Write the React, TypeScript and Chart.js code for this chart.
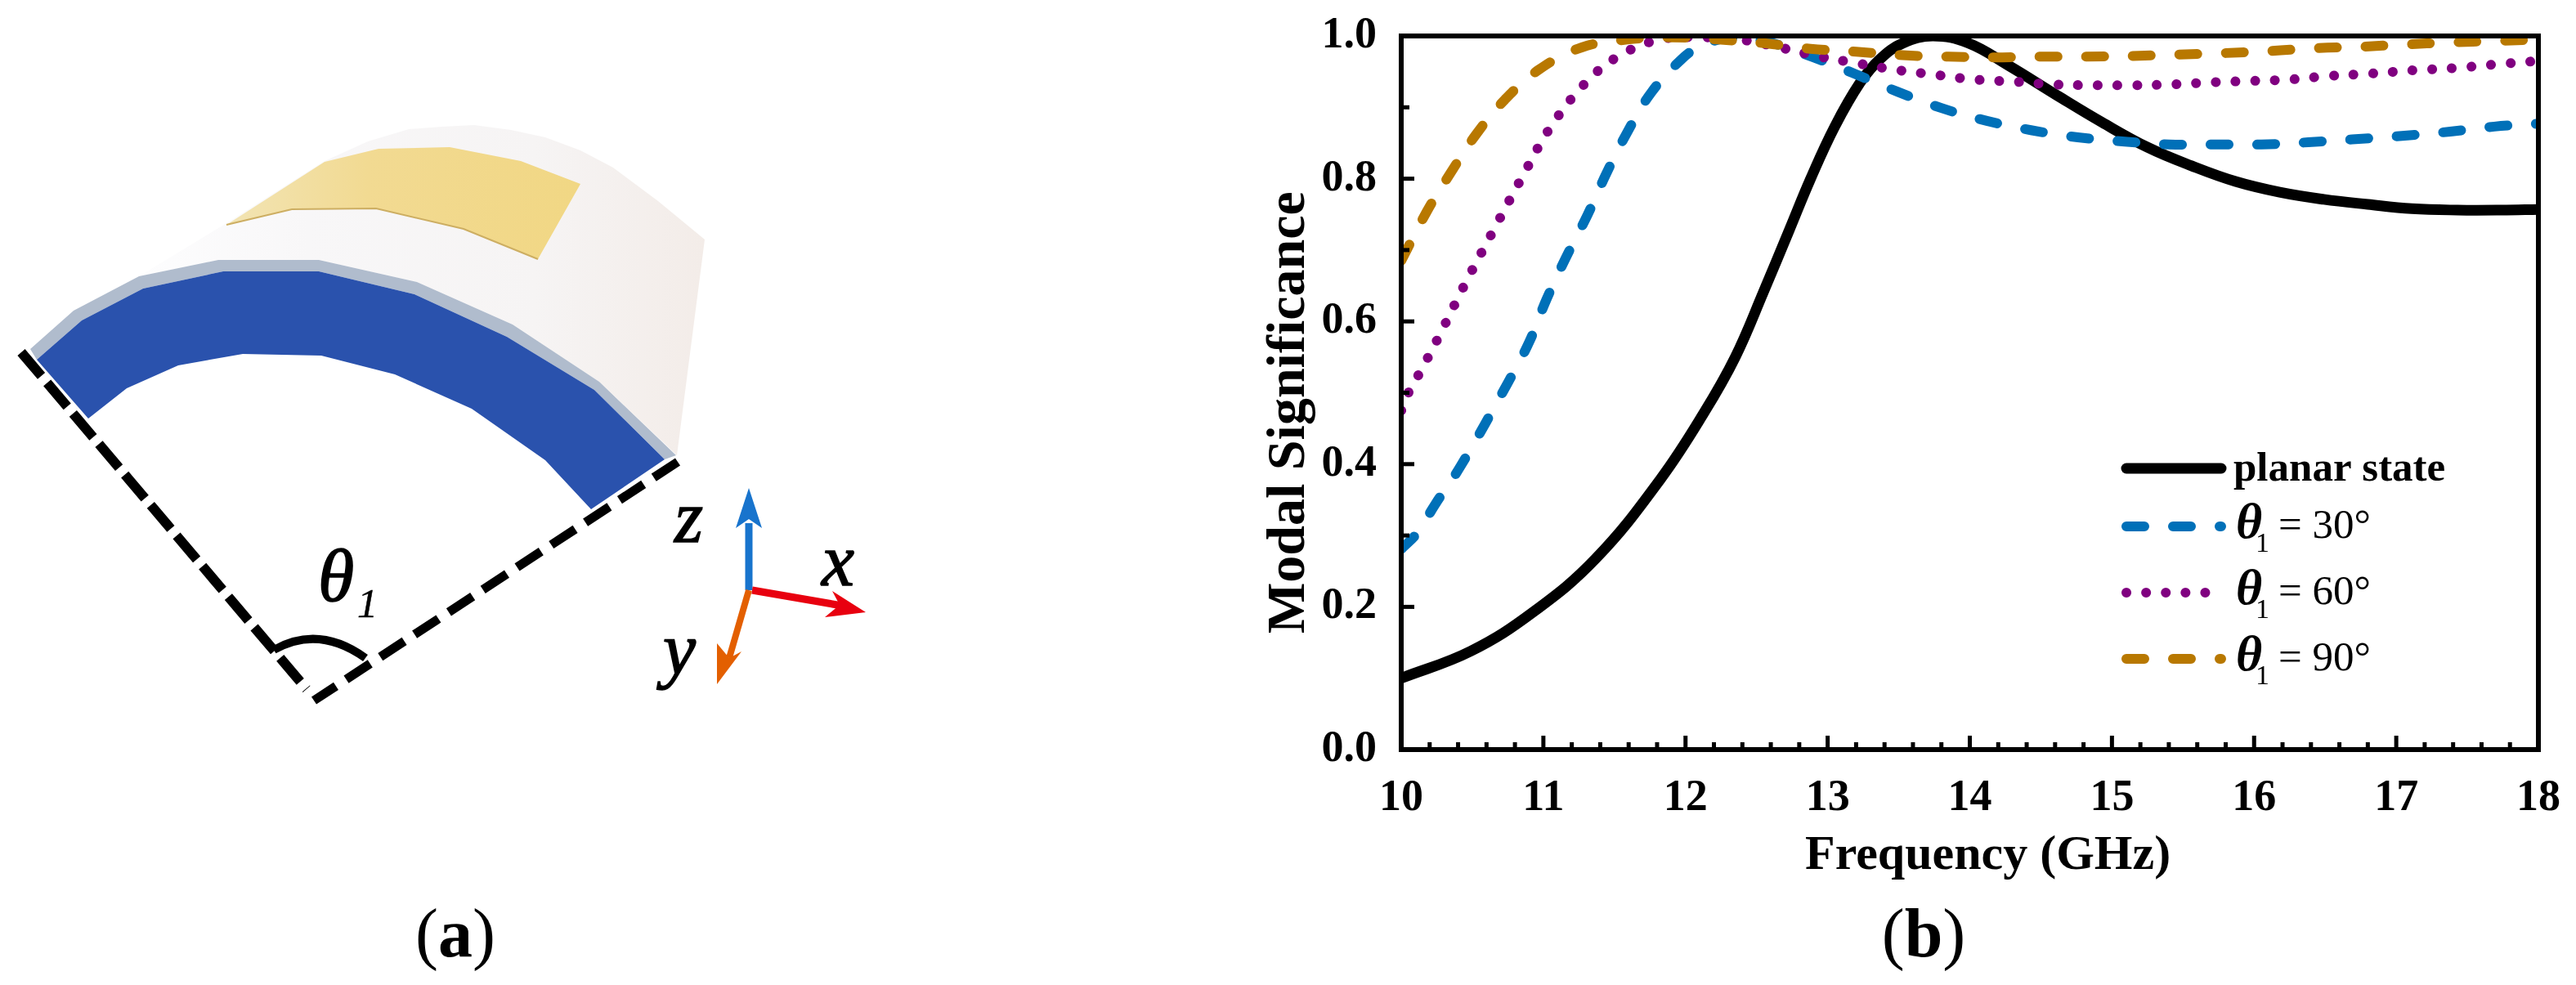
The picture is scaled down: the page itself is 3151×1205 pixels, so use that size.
import React, { useEffect, useRef } from 'react';
import { Chart, registerables } from 'chart.js';

Chart.register(...registerables);

const SERIF = '"Liberation Serif", serif';

const xMajorTicks = [10, 11, 12, 13, 14, 15, 16, 17, 18];
const yMajorTicks = [0, 0.2, 0.4, 0.6, 0.8, 1.0];
const xMinorTicks = [
  10.2, 10.4, 10.6, 10.8, 11.2, 11.4, 11.6, 11.8, 12.2, 12.4, 12.6, 12.8, 13.2, 13.4, 13.6, 13.8,
  14.2, 14.4, 14.6, 14.8, 15.2, 15.4, 15.6, 15.8, 16.2, 16.4, 16.6, 16.8, 17.2, 17.4, 17.6, 17.8,
];
const yMinorTicks = [0.1, 0.3, 0.5, 0.7, 0.9];

const planarFreq = [10, 10.49, 10.93, 11.37, 11.82, 12.13, 12.35, 12.55, 12.73, 12.88, 13.05, 13.23, 13.37, 13.53, 13.74, 13.99, 14.27, 14.62, 14.93, 15.25, 15.56, 15.87, 16.18, 16.49, 16.8, 17.11, 17.43, 17.74, 18];
const planarMs = [0.1, 0.138, 0.193, 0.268, 0.378, 0.472, 0.55, 0.642, 0.728, 0.8, 0.873, 0.935, 0.968, 0.99, 1.0, 0.99, 0.959, 0.916, 0.879, 0.844, 0.818, 0.796, 0.781, 0.771, 0.764, 0.758, 0.756, 0.756, 0.757];

const theta30Freq = [10, 10.11, 10.24, 10.42, 10.75, 10.9, 11.02, 11.16, 11.31, 11.44, 11.59, 11.76, 11.97, 12.1, 12.3, 12.55, 12.9, 13.19, 13.49, 13.8, 14.12, 14.43, 14.76, 15.09, 15.4, 15.73, 16.05, 16.38, 16.69, 17.04, 17.38, 17.69, 18];
const theta30Ms = [0.281, 0.303, 0.344, 0.398, 0.514, 0.571, 0.63, 0.69, 0.749, 0.806, 0.865, 0.921, 0.967, 0.985, 0.997, 0.993, 0.97, 0.947, 0.922, 0.899, 0.881, 0.868, 0.858, 0.852, 0.848, 0.848, 0.848, 0.851, 0.855, 0.86, 0.866, 0.873, 0.877];

const theta60Freq = [10, 10.06, 10.13, 10.26, 10.45, 10.65, 10.85, 11.06, 11.32, 11.55, 11.82, 12.1, 12.38, 12.66, 12.92, 13.2, 13.46, 13.74, 14.03, 14.31, 14.59, 14.86, 15.14, 15.41, 15.69, 15.97, 16.25, 16.53, 16.8, 17.13, 17.41, 17.69, 18];
const theta60Ms = [0.475, 0.504, 0.528, 0.577, 0.653, 0.728, 0.802, 0.875, 0.939, 0.974, 0.995, 0.998, 0.995, 0.984, 0.972, 0.962, 0.953, 0.946, 0.939, 0.936, 0.932, 0.931, 0.931, 0.932, 0.935, 0.937, 0.939, 0.944, 0.947, 0.952, 0.955, 0.96, 0.965];

const theta90Freq = [10, 10.18, 10.35, 10.53, 10.73, 10.97, 11.27, 11.59, 11.91, 12.23, 12.55, 12.88, 13.2, 13.53, 13.85, 14.17, 14.49, 14.82, 15.14, 15.47, 15.79, 16.12, 16.44, 16.76, 17.05, 17.38, 17.7, 18];
const theta90Ms = [0.685, 0.754, 0.809, 0.863, 0.911, 0.953, 0.984, 0.995, 0.998, 0.995, 0.99, 0.982, 0.978, 0.973, 0.971, 0.97, 0.971, 0.971, 0.972, 0.974, 0.976, 0.979, 0.983, 0.985, 0.988, 0.991, 0.993, 0.995];

const toPoints = (xs: number[], ys: number[]) => xs.map((x, i) => ({ x, y: ys[i] }));

const PLOT = { left: 1714, right: 3105, top: 44, bottom: 917 };

// frame, inward ticks, axis titles and the hand-placed legend
const decorPlugin = {
  id: 'decor',
  afterDatasetsDraw(chart: any) {
    const { ctx, chartArea: a, scales } = chart;
    const sx = scales.x;
    const sy = scales.y;
    ctx.save();
    ctx.strokeStyle = '#000';
    ctx.fillStyle = '#000';

    ctx.lineWidth = 5;
    const tick = (x1: number, y1: number, x2: number, y2: number) => {
      ctx.beginPath();
      ctx.moveTo(x1, y1);
      ctx.lineTo(x2, y2);
      ctx.stroke();
    };
    xMajorTicks.forEach((v) => tick(sx.getPixelForValue(v), a.bottom, sx.getPixelForValue(v), a.bottom - 17));
    xMinorTicks.forEach((v) => tick(sx.getPixelForValue(v), a.bottom, sx.getPixelForValue(v), a.bottom - 9));
    yMajorTicks.forEach((v) => tick(a.left, sy.getPixelForValue(v), a.left + 16, sy.getPixelForValue(v)));
    yMinorTicks.forEach((v) => tick(a.left, sy.getPixelForValue(v), a.left + 10, sy.getPixelForValue(v)));

    ctx.lineWidth = 6;
    ctx.strokeRect(a.left, a.top, a.right - a.left, a.bottom - a.top);

    // axis titles
    ctx.textBaseline = 'alphabetic';
    ctx.textAlign = 'left';
    ctx.font = `bold 60px ${SERIF}`;
    ctx.fillText('Frequency (GHz)', 2208, 1063);
    ctx.save();
    ctx.translate(1595, 775);
    ctx.rotate(-Math.PI / 2);
    ctx.font = `bold 66px ${SERIF}`;
    ctx.fillText('Modal Significance', 0, 0);
    ctx.restore();

    // legend
    const rows = [573, 644, 725, 806];
    chart.data.datasets.forEach((ds: any, i: number) => {
      ctx.save();
      ctx.beginPath();
      ctx.lineWidth = ds.borderWidth;
      ctx.strokeStyle = ds.borderColor;
      ctx.lineCap = 'round';
      ctx.setLineDash(ds.borderDash || []);
      ctx.moveTo(2601, rows[i]);
      ctx.lineTo(2717, rows[i]);
      ctx.stroke();
      ctx.restore();
    });
    ctx.font = `bold 51px ${SERIF}`;
    ctx.fillText('planar state', 2732, 588);
    [['30°', 658], ['60°', 739], ['90°', 820]].forEach(([deg, y]: any) => {
      ctx.font = `italic bold 62px ${SERIF}`;
      ctx.fillText('θ', 2735, y);
      ctx.font = `34px ${SERIF}`;
      ctx.fillText('1', 2759, y + 17);
      ctx.font = `51px ${SERIF}`;
      ctx.fillText('= ' + deg, 2787, y);
    });
    ctx.restore();
  },
};

const Illustration: React.FC = () => (
  <svg width={3151} height={1205} style={{ position: 'absolute', left: 0, top: 0 }}>
    <defs>
      <linearGradient id="surface" x1="0" y1="0" x2="1" y2="0">
        <stop offset="0" stopColor="#fdfdfe" />
        <stop offset="0.3" stopColor="#f8f7f8" />
        <stop offset="0.7" stopColor="#f6f4f4" />
        <stop offset="1" stopColor="#f3ece8" />
      </linearGradient>
      <linearGradient id="patch" x1="0" y1="0" x2="1" y2="0">
        <stop offset="0" stopColor="#f2e4b4" />
        <stop offset="0.4" stopColor="#f2da92" />
        <stop offset="1" stopColor="#f1d784" />
      </linearGradient>
    </defs>
    <polygon
      points="170,338 277,273 397,197 450,173 500,158 540,155 580,153 625,159 667,168 710,184 750,205 805,246 862,293 828,557 733,467 627,397 510,345 390,318 267,318"
      fill="url(#surface)"
    />
    <polygon
      points="277,275 397,198 463,182 550,180 637,197 710,225 658,317 567,280 460,255 357,256"
      fill="url(#patch)"
    />
    <polyline points="277,275 357,256 460,255 567,280 658,317" fill="none" stroke="#cdae62" strokeWidth={2} />
    <polygon
      points="37,427 90,380 170,338 267,318 390,318 510,345 627,397 733,467 827,557 813,562 727,477 620,412 507,360 390,332 273,332 175,353 100,392 45,440"
      fill="#b0bccd"
    />
    <polygon
      points="45,440 100,392 175,353 273,332 390,332 507,360 620,412 727,477 813,562 723,623 667,563 577,500 483,458 393,435 297,433 218,447 155,475 108,512"
      fill="#2a52ad"
    />
    <g stroke="#000" fill="none">
      <line x1={26} y1={431} x2={375} y2={843} strokeWidth={12} strokeDasharray="38 11" />
      <line x1={829} y1={565} x2={384} y2={857} strokeWidth={11} strokeDasharray="35 15" />
      <path d="M 335 795 Q 390 764 447 805" strokeWidth={10} />
    </g>
    {/* coordinate triad */}
    <line x1={916} y1={722} x2={916} y2={640} stroke="#1874cd" strokeWidth={9} />
    <polygon points="916,597 900,646 916,635 932,646" fill="#1874cd" />
    <line x1={920} y1={722} x2={1030} y2={741} stroke="#e8000f" strokeWidth={9} />
    <polygon points="1059,749 1018,723 1027,740 1009,755" fill="#e8000f" />
    <line x1={916} y1={722} x2={892} y2={805} stroke="#e35f00" strokeWidth={8} />
    <polygon points="877,837 877,787 892,805 907,797" fill="#e35f00" />
    <g fontFamily={SERIF} fontStyle="italic" fontSize={90} fill="#000" stroke="#000" strokeWidth={1.5}>
      <text x={825} y={663}>z</text>
      <text x={1005} y={716}>x</text>
      <text x={811} y={825}>y</text>
      <text x={389} y={735}>θ</text>
      <text x={437} y={755} fontSize={50} strokeWidth={0.5}>1</text>
    </g>
    <g fontFamily={SERIF} fontSize={84} fill="#000" textAnchor="middle">
      <text x={557} y={1170}>(<tspan fontWeight="bold">a</tspan>)</text>
      <text x={2353} y={1170}>(<tspan fontWeight="bold">b</tspan>)</text>
    </g>
  </svg>
);

const App: React.FC = () => {
  const chartRef = useRef<HTMLCanvasElement>(null);

  useEffect(() => {
    document.body.style.margin = '0';
    document.body.style.background = '#fff';
    if (!chartRef.current) return;

    const lineStyle = { pointRadius: 0, fill: false, tension: 0.4, clip: 0, borderCapStyle: 'round', borderJoinStyle: 'round' };
    const chart = new Chart(chartRef.current, {
      type: 'line',
      data: {
        datasets: [
          { ...lineStyle, label: 'planar state', data: toPoints(planarFreq, planarMs), borderColor: '#000000', borderWidth: 13, order: 3 },
          { ...lineStyle, label: 'θ1 = 30°', data: toPoints(theta30Freq, theta30Ms), borderColor: '#0070b8', borderWidth: 12, borderDash: [22, 35], order: 2 },
          { ...lineStyle, label: 'θ1 = 60°', data: toPoints(theta60Freq, theta60Ms), borderColor: '#800080', borderWidth: 12, borderDash: [0.1, 24], order: 1 },
          { ...lineStyle, label: 'θ1 = 90°', data: toPoints(theta90Freq, theta90Ms), borderColor: '#b87800', borderWidth: 12, borderDash: [22, 35], order: 0 },
        ] as any,
      },
      options: {
        responsive: false,
        devicePixelRatio: 1,
        animation: false,
        layout: { padding: { left: PLOT.left - 120, right: 3151 - PLOT.right, top: PLOT.top, bottom: 1205 - PLOT.bottom - 120 } },
        plugins: { legend: { display: false }, title: { display: false }, tooltip: { enabled: false } },
        scales: {
          x: {
            type: 'linear',
            min: 10,
            max: 18,
            afterBuildTicks: (s: any) => { s.ticks = xMajorTicks.map((value) => ({ value })); },
            afterFit: (s: any) => { s.height = 120; s.paddingLeft = 0; s.paddingRight = 0; },
            grid: { display: false },
            border: { display: false },
            ticks: {
              color: '#000',
              padding: 20,
              maxRotation: 0,
              font: { family: SERIF, size: 54, weight: 'bold' },
              callback: (v: any) => String(v),
            },
          },
          y: {
            type: 'linear',
            min: 0,
            max: 1,
            afterBuildTicks: (s: any) => { s.ticks = yMajorTicks.map((value) => ({ value })); },
            // drop the auto padding for the top tick label so the plot area lands on PLOT
            afterFit: (s: any) => { s.width = 120; s.paddingTop = 0; s.paddingBottom = 0; },
            grid: { display: false },
            border: { display: false },
            ticks: {
              color: '#000',
              padding: 22,
              font: { family: SERIF, size: 54, weight: 'bold' },
              callback: (v: any) => Number(v).toFixed(1),
            },
          },
        },
      } as any,
      plugins: [decorPlugin],
    });

    return () => {
      chart.destroy();
    };
  }, []);

  return (
    <div style={{ position: 'relative', width: 3151, height: 1205, overflow: 'hidden', background: '#fff' }}>
      <Illustration />
      <canvas ref={chartRef} width={3151} height={1205} style={{ position: 'absolute', left: 0, top: 0, display: 'block' }} />
    </div>
  );
};

export default App;
